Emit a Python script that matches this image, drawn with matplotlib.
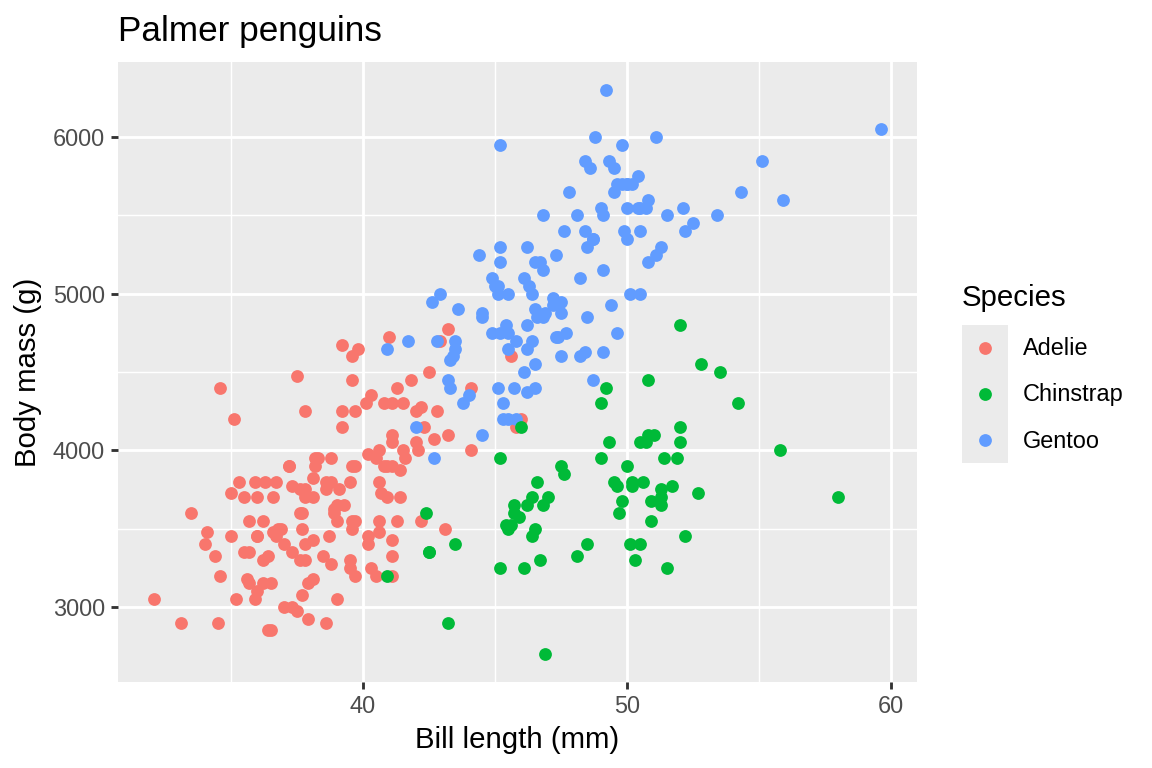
import matplotlib.pyplot as plt
from matplotlib.ticker import MultipleLocator

plt.rcParams['font.family'] = ['Liberation Sans', 'DejaVu Sans']

# Palmer penguins: bill length (mm) and body mass (g)
adelie_bill = [39.1, 39.5, 40.3, 36.7, 39.3, 38.9, 39.2, 34.1, 42.0, 37.8, 37.8, 41.1, 38.6, 34.6,
               36.6, 38.7, 42.5, 34.4, 46.0, 37.8, 37.7, 35.9, 38.2, 38.8, 35.3, 40.6, 40.5, 37.9,
               40.5, 39.5, 37.2, 39.5, 40.9, 36.4, 39.2, 38.8, 42.2, 37.6, 39.8, 36.5, 40.8, 36.0,
               44.1, 37.0, 39.6, 41.1, 37.5, 36.0, 42.3, 39.6, 40.1, 35.0, 42.0, 34.5, 41.4, 39.0,
               40.6, 36.5, 37.6, 35.7, 41.3, 37.6, 41.1, 36.4, 41.6, 35.5, 41.1, 35.9, 41.8, 33.5,
               39.7, 39.6, 45.8, 35.5, 42.8, 40.9, 37.2, 36.2, 42.1, 34.6, 42.9, 36.7, 35.1, 37.3,
               41.3, 36.3, 36.9, 38.3, 38.9, 35.7, 41.1, 34.0, 39.6, 36.2, 40.8, 38.1, 40.3, 33.1,
               43.2, 35.0, 41.0, 37.7, 37.8, 37.9, 39.7, 38.6, 38.2, 38.1, 43.2, 38.1, 45.6, 39.7,
               42.2, 39.6, 42.7, 38.6, 37.3, 35.7, 41.1, 36.2, 37.7, 40.2, 41.4, 35.2, 40.6, 38.8,
               41.5, 39.0, 44.1, 38.5, 43.1, 36.8, 37.5, 38.1, 41.1, 35.6, 40.2, 37.0, 39.7, 40.2,
               40.6, 32.1, 40.7, 37.3, 39.0, 39.2, 36.6, 36.0, 37.8, 36.0, 41.5]
adelie_mass = [3750, 3800, 3250, 3450, 3650, 3625, 4675, 3475, 4250, 3300, 3700, 3200, 3800, 4400,
               3700, 3450, 4500, 3325, 4200, 3400, 3600, 3800, 3950, 3800, 3800, 3550, 3200, 3150,
               3950, 3250, 3900, 3300, 3900, 3325, 4150, 3950, 3550, 3300, 4650, 3150, 3900, 3100,
               4400, 3000, 4600, 3425, 2975, 3450, 4150, 3500, 4300, 3450, 4050, 2900, 3700, 3550,
               3800, 2850, 3750, 3150, 4400, 3600, 4050, 2850, 3950, 3350, 4100, 3050, 4450, 3600,
               3900, 3550, 4150, 3700, 4250, 3700, 3900, 3550, 4000, 3200, 4700, 3800, 4200, 3350,
               3550, 3800, 3500, 3950, 3600, 3550, 4300, 3400, 4450, 3300, 4300, 3700, 4350, 2900,
               4100, 3725, 4725, 3075, 4250, 2925, 3550, 3750, 3900, 3175, 4775, 3825, 4600, 3200,
               4275, 3900, 4075, 2900, 3775, 3350, 3325, 3150, 3500, 3450, 3875, 3050, 4000, 3275,
               4300, 3050, 4000, 3325, 3500, 3500, 4475, 3425, 3900, 3175, 3975, 3400, 4250, 3400,
               3475, 3050, 3725, 3000, 3650, 4250, 3475, 3450, 3750, 3700, 4000]

gentoo_bill = [46.1, 50.0, 48.7, 50.0, 47.6, 46.5, 45.4, 46.7, 43.3, 46.8, 40.9, 49.0, 45.5, 48.4,
               45.8, 49.3, 42.0, 49.2, 46.2, 48.7, 50.2, 45.1, 46.5, 46.3, 42.9, 46.1, 44.5, 47.8,
               48.2, 50.0, 47.3, 42.8, 45.1, 59.6, 49.1, 48.4, 42.6, 44.4, 44.0, 48.7, 42.7, 49.6,
               45.3, 49.6, 50.5, 43.6, 45.5, 50.5, 44.9, 45.2, 46.6, 48.5, 45.1, 50.1, 46.5, 45.0,
               43.8, 45.5, 43.2, 50.4, 45.3, 46.2, 45.7, 54.3, 45.8, 49.8, 46.2, 49.5, 43.5, 50.7,
               47.7, 46.4, 48.2, 46.5, 46.4, 48.6, 47.5, 51.1, 45.2, 45.2, 49.1, 52.5, 47.4, 50.0,
               44.9, 50.8, 43.4, 51.3, 47.5, 52.1, 47.5, 52.2, 45.5, 49.5, 44.5, 50.8, 49.4, 46.9,
               48.4, 51.1, 48.5, 55.9, 47.2, 49.1, 47.3, 46.8, 41.7, 53.4, 43.3, 48.1, 50.5, 49.8,
               43.5, 51.5, 46.2, 55.1, 44.5, 48.8, 47.2, 46.8, 50.4, 45.2, 49.9]
gentoo_mass = [4500, 5700, 4450, 5700, 5400, 4550, 4800, 5200, 4400, 5150, 4650, 5550, 4650, 5850,
               4200, 5850, 4150, 6300, 4800, 5350, 5700, 5000, 4400, 5050, 5000, 5100, 4100, 5650,
               4600, 5550, 5250, 4700, 5050, 6050, 5150, 5400, 4950, 5250, 4350, 5350, 3950, 5700,
               4300, 4750, 5550, 4900, 4200, 5400, 5100, 5300, 4850, 5300, 4400, 5000, 4900, 5050,
               4300, 5000, 4450, 5550, 4200, 5300, 4400, 5650, 4700, 5700, 4650, 5800, 4700, 5550,
               4750, 5000, 5100, 5200, 4700, 5800, 4600, 6000, 4750, 5950, 4625, 5450, 4725, 5350,
               4750, 5600, 4600, 5300, 4875, 5550, 4950, 5400, 4750, 5650, 4850, 5200, 4925, 4875,
               4625, 5250, 4850, 5600, 4975, 5500, 4725, 5500, 4700, 5500, 4575, 5500, 5000, 5950,
               4650, 5500, 4375, 5850, 4875, 6000, 4925, 4850, 5750, 5200, 5400]

chinstrap_bill = [46.5, 50.0, 51.3, 45.4, 52.7, 45.2, 46.1, 51.3, 46.0, 51.3, 46.6, 51.7, 47.0, 52.0,
                  45.9, 50.5, 50.3, 58.0, 46.4, 49.2, 42.4, 48.5, 43.2, 50.6, 46.7, 52.0, 50.5, 49.5,
                  46.4, 52.8, 40.9, 54.2, 42.5, 51.0, 49.7, 47.5, 47.6, 52.0, 46.9, 53.5, 49.0, 46.2,
                  50.9, 45.5, 50.9, 50.8, 50.1, 49.0, 51.5, 49.8, 48.1, 51.4, 45.7, 50.7, 42.5, 52.2,
                  45.2, 49.3, 50.2, 45.6, 51.9, 46.8, 45.7, 55.8, 43.5, 49.6, 50.8, 50.2]
chinstrap_mass = [3500, 3900, 3650, 3525, 3725, 3950, 3250, 3750, 4150, 3700, 3800, 3775, 3700, 4050,
                  3575, 4050, 3300, 3700, 3450, 4400, 3600, 3400, 2900, 3800, 3300, 4150, 3400, 3800,
                  3700, 4550, 3200, 4300, 3350, 4100, 3600, 3900, 3850, 4800, 2700, 4500, 3950, 3650,
                  3550, 3500, 3675, 4450, 3400, 4300, 3250, 3675, 3325, 3950, 3600, 4050, 3350, 3450,
                  3250, 4050, 3800, 3525, 3950, 3650, 3650, 4000, 3400, 3775, 4100, 3775]

species = ['Adelie', 'Chinstrap', 'Gentoo']
colors = {'Adelie': '#F8766D', 'Chinstrap': '#00BA38', 'Gentoo': '#619CFF'}
pt_size = 23

W, H = 1152, 768
fig = plt.figure(figsize=(6, 4), dpi=192)
ax = fig.add_axes([118 / W, 1 - 682 / H, (917 - 118) / W, (682 - 62) / H])
ax.set_facecolor('#EBEBEB')

# same drawing order as the data rows: Adelie, Gentoo, Chinstrap
ax.scatter(adelie_bill, adelie_mass, s=pt_size, color=colors['Adelie'], linewidths=0, zorder=3)
ax.scatter(gentoo_bill, gentoo_mass, s=pt_size, color=colors['Gentoo'], linewidths=0, zorder=3)
ax.scatter(chinstrap_bill, chinstrap_mass, s=pt_size, color=colors['Chinstrap'], linewidths=0, zorder=3)

ax.set_xlim(30.725, 60.975)
ax.set_ylim(2520, 6480)
ax.xaxis.set_major_locator(MultipleLocator(10))
ax.xaxis.set_minor_locator(MultipleLocator(5))
ax.yaxis.set_major_locator(MultipleLocator(1000))
ax.yaxis.set_minor_locator(MultipleLocator(500))
ax.grid(which='major', color='white', linewidth=1.07)
ax.grid(which='minor', color='white', linewidth=0.53)
ax.set_axisbelow(True)
for sp in ax.spines.values():
    sp.set_visible(False)
ax.tick_params(which='major', length=2.75, width=1.07, color='#333333',
               labelsize=8.8, labelcolor='#4D4D4D', pad=2.2)
ax.tick_params(which='minor', length=0)

ax.set_xlabel('Bill length (mm)', fontsize=11, labelpad=3)
ax.set_ylabel('Body mass (g)', fontsize=11, labelpad=4)
ax.set_title('Palmer penguins', fontsize=13.2, loc='left', pad=8)

# legend drawn by hand, ggplot style
lg = fig.add_axes([962 / W, 1 - 463 / H, 46 / W, 138 / H])
lg.set_facecolor('#EBEBEB')
lg.set_xlim(0, 1)
lg.set_ylim(0, 3)
lg.set_xticks([])
lg.set_yticks([])
for sp in lg.spines.values():
    sp.set_visible(False)
for i, sp_name in enumerate(species):
    lg.scatter([0.5], [2.5 - i], s=pt_size, color=colors[sp_name], linewidths=0)
    fig.text(1023 / W, 1 - (349 + 46 * i) / H, sp_name, fontsize=8.8, va='center', ha='left')
fig.text(962 / W, 1 - 298 / H, 'Species', fontsize=11, va='center', ha='left')

fig.savefig('out.png', dpi=192)
